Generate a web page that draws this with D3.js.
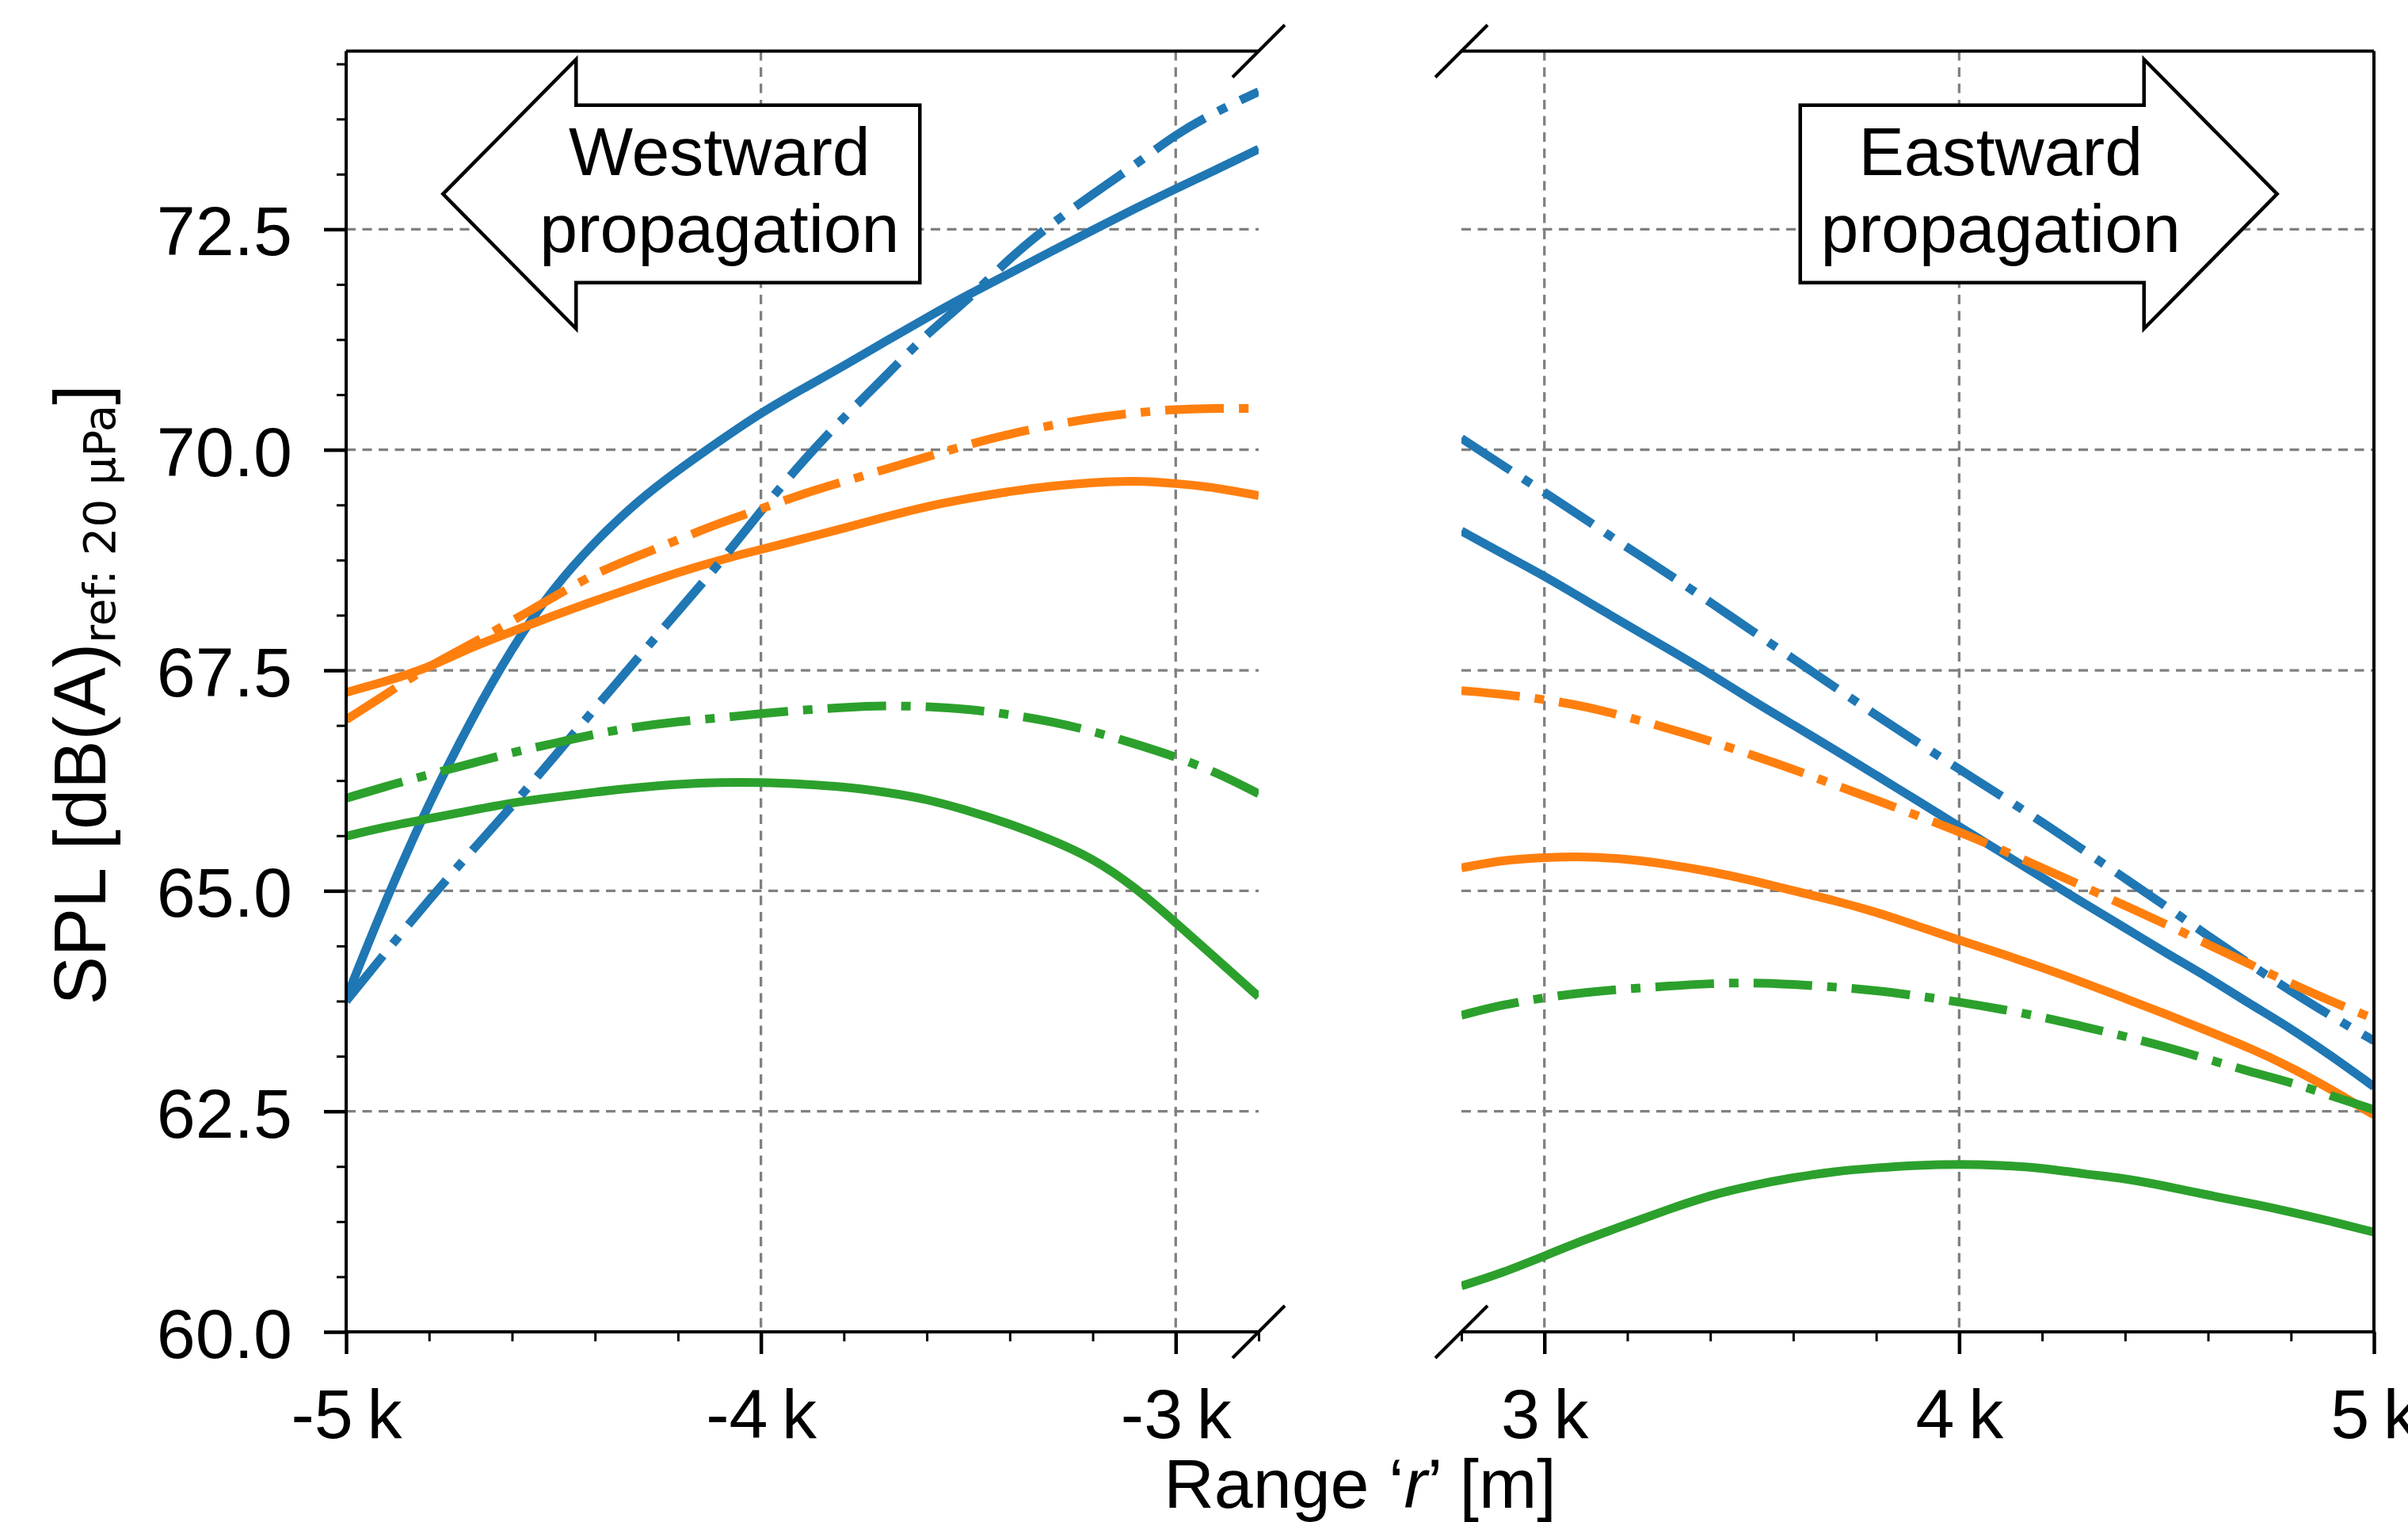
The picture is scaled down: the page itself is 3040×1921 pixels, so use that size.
<!DOCTYPE html>
<html lang="en">
<head>
<meta charset="UTF-8">
<title>SPL vs range</title>
<script src="https://cdn.jsdelivr.net/npm/d3@7/dist/d3.min.js"></script>
<style>
  body { margin: 0; background: #fff; }
  text { font-family: "Liberation Sans", sans-serif; fill: #000; }
</style>
</head>
<body>
<svg id="viz"></svg>
<script>
// ranges [m] at which the curves were read
const westRange = [-5000, -4900, -4800, -4700, -4600, -4500, -4400, -4300, -4200, -4100, -4000, -3900,
                   -3800, -3700, -3600, -3500, -3400, -3300, -3200, -3100, -3000, -2900, -2800];
const eastRange = [2800, 2900, 3000, 3100, 3200, 3300, 3400, 3500, 3600, 3700, 3800, 3900,
                   4000, 4100, 4200, 4300, 4400, 4500, 4600, 4700, 4800, 4900, 5000];

// SPL [dB(A)] westward
const westBlueSolid = [63.78, 64.95, 66.00, 66.93, 67.76, 68.44, 68.96, 69.41, 69.77, 70.10, 70.42, 70.69,
                       70.95, 71.23, 71.50, 71.76, 72.00, 72.25, 72.49, 72.73, 72.96, 73.18, 73.41];
const westBlueDash = [63.75, 64.33, 64.90, 65.44, 65.96, 66.51, 67.07, 67.62, 68.17, 68.71, 69.31, 69.87,
                      70.37, 70.83, 71.32, 71.70, 72.18, 72.56, 72.90, 73.22, 73.58, 73.84, 74.06];
const westOrangeSolid = [67.25, 67.38, 67.53, 67.76, 67.94, 68.12, 68.29, 68.45, 68.61, 68.75, 68.87, 68.99,
                         69.11, 69.24, 69.36, 69.45, 69.53, 69.59, 69.63, 69.65, 69.62, 69.57, 69.48];
const westOrangeDash = [66.94, 67.24, 67.55, 67.79, 68.06, 68.33, 68.60, 68.79, 68.98, 69.17, 69.33, 69.50,
                        69.64, 69.78, 69.92, 70.06, 70.18, 70.28, 70.36, 70.42, 70.46, 70.47, 70.47];
const westGreenSolid = [65.62, 65.73, 65.82, 65.91, 66.00, 66.06, 66.12, 66.17, 66.21, 66.23, 66.23, 66.21,
                        66.18, 66.12, 66.04, 65.91, 65.76, 65.58, 65.37, 65.05, 64.64, 64.22, 63.80];
const westGreenDash = [66.05, 66.19, 66.32, 66.44, 66.57, 66.67, 66.78, 66.86, 66.92, 66.96, 67.01, 67.05,
                       67.08, 67.10, 67.09, 67.06, 67.00, 66.92, 66.81, 66.67, 66.52, 66.34, 66.10];

// SPL [dB(A)] eastward
const eastBlueSolid = [69.08, 68.82, 68.57, 68.29, 68.01, 67.74, 67.46, 67.16, 66.88, 66.60, 66.31, 66.02,
                       65.73, 65.44, 65.15, 64.86, 64.58, 64.29, 64.02, 63.72, 63.44, 63.12, 62.78];
const eastBlueDash = [70.13, 69.82, 69.52, 69.21, 68.89, 68.59, 68.27, 67.95, 67.63, 67.31, 66.99, 66.68,
                      66.38, 66.08, 65.78, 65.46, 65.14, 64.82, 64.49, 64.17, 63.86, 63.57, 63.30];
const eastOrangeSolid = [65.26, 65.35, 65.38, 65.39, 65.36, 65.30, 65.22, 65.12, 65.00, 64.89, 64.76, 64.60,
                         64.44, 64.29, 64.13, 63.96, 63.78, 63.60, 63.41, 63.22, 63.00, 62.74, 62.46];
const eastOrangeDash = [67.27, 67.23, 67.17, 67.09, 66.97, 66.84, 66.70, 66.54, 66.38, 66.20, 66.03, 65.85,
                        65.67, 65.47, 65.26, 65.05, 64.83, 64.62, 64.39, 64.17, 63.95, 63.74, 63.55];
const eastGreenSolid = [60.52, 60.67, 60.86, 61.05, 61.22, 61.39, 61.55, 61.66, 61.75, 61.82, 61.86, 61.89,
                        61.90, 61.89, 61.86, 61.79, 61.74, 61.65, 61.55, 61.46, 61.36, 61.25, 61.13];
const eastGreenDash = [63.59, 63.71, 63.79, 63.85, 63.89, 63.92, 63.95, 63.96, 63.94, 63.91, 63.87, 63.81,
                       63.74, 63.66, 63.57, 63.46, 63.35, 63.23, 63.09, 62.95, 62.83, 62.67, 62.52];

const yMajor = [60, 62.5, 65, 67.5, 70, 72.5];
const westTicks = [-5000, -4000, -3000];
const eastTicks = [3000, 4000, 5000];

const blue = '#1f77b4', orange = '#ff7f0e', green = '#2ca02c';
const dashDot = '74,19,12,19';

const W = 3040, H = 1921;
const plotTop = 64.5, plotBottom = 1681;

const svg = d3.select('#viz').attr('width', W).attr('height', H);

const y = d3.scaleLinear().domain([60, 74.52]).range([plotBottom, plotTop]);
const yMinor = d3.range(60, 74.5, 0.625);

const panels = [
  {
    id: 'west', x0: 437, x1: 1589, domain: [-5000, -2800], ticks: westTicks, side: 'left', r: westRange,
    series: [
      {v: westBlueSolid, c: blue}, {v: westOrangeSolid, c: orange}, {v: westGreenSolid, c: green},
      {v: westBlueDash, c: blue, d: true}, {v: westOrangeDash, c: orange, d: true}, {v: westGreenDash, c: green, d: true}
    ],
    note: {r: -4100, spl: 72.9, dir: -1, lines: ['Westward', 'propagation']}
  },
  {
    id: 'east', x0: 1845, x1: 2997, domain: [2800, 5000], ticks: eastTicks, side: 'right', r: eastRange,
    series: [
      {v: eastBlueSolid, c: blue}, {v: eastOrangeSolid, c: orange}, {v: eastGreenSolid, c: green},
      {v: eastBlueDash, c: blue, d: true}, {v: eastOrangeDash, c: orange, d: true}, {v: eastGreenDash, c: green, d: true}
    ],
    note: {r: 4100, spl: 72.9, dir: 1, lines: ['Eastward', 'propagation']}
  }
];

panels.forEach(p => {
  const x = d3.scaleLinear().domain(p.domain).range([p.x0, p.x1]);
  const xMinor = d3.range(p.domain[0], p.domain[1] + 1, 200);
  const g = svg.append('g').attr('class', p.id);

  g.append('clipPath').attr('id', 'clip-' + p.id)
    .append('rect').attr('x', p.x0).attr('y', plotTop)
    .attr('width', p.x1 - p.x0).attr('height', plotBottom - plotTop);

  // grid
  const grid = g.append('g').attr('stroke', '#808080').attr('stroke-width', 3.3).attr('stroke-dasharray', '12,8.5');
  grid.selectAll('.hg').data(yMajor).join('line')
    .attr('x1', p.x0).attr('x2', p.x1).attr('y1', d => y(d)).attr('y2', d => y(d));
  grid.selectAll('.vg').data(p.ticks).join('line')
    .attr('x1', d => x(d)).attr('x2', d => x(d)).attr('y1', plotTop).attr('y2', plotBottom);

  // curves
  const line = d3.line().x((d, i) => x(p.r[i])).y(d => y(d)).curve(d3.curveBasis);
  g.append('g').attr('clip-path', `url(#clip-${p.id})`)
    .selectAll('path').data(p.series).join('path')
      .attr('d', s => line(s.v))
      .attr('fill', 'none')
      .attr('stroke', s => s.c)
      .attr('stroke-width', 11)
      .attr('stroke-linejoin', 'round')
      .attr('stroke-dasharray', s => s.d ? dashDot : null);

  // annotation arrow box
  const cx = x(p.note.r), cy = y(p.note.spl), dir = p.note.dir;
  const tip = 349, base = 181, back = 253, bh = 112, hh = 170;
  const pts = [
    [cx + dir * tip, cy], [cx + dir * base, cy - hh], [cx + dir * base, cy - bh],
    [cx - dir * back, cy - bh], [cx - dir * back, cy + bh], [cx + dir * base, cy + bh],
    [cx + dir * base, cy + hh]
  ];
  g.append('polygon').attr('points', pts.map(q => q.join(',')).join(' '))
    .attr('fill', '#fff').attr('stroke', '#000').attr('stroke-width', 4.5);
  g.selectAll('.note').data(p.note.lines).join('text')
    .attr('class', 'note')
    .attr('x', cx).attr('y', (d, i) => cy - 24 + i * 97)
    .attr('text-anchor', 'middle').attr('font-size', 86)
    .text(d => d);

  // spines
  const spines = g.append('g').attr('stroke', '#000').attr('stroke-width', 4);
  spines.append('line').attr('x1', p.x0).attr('x2', p.x1).attr('y1', plotTop).attr('y2', plotTop);
  spines.append('line').attr('x1', p.x0).attr('x2', p.x1).attr('y1', plotBottom).attr('y2', plotBottom);
  const sx = p.side === 'left' ? p.x0 : p.x1;
  spines.append('line').attr('x1', sx).attr('x2', sx).attr('y1', plotTop).attr('y2', plotBottom);

  // break marks
  const bx = p.side === 'left' ? p.x1 : p.x0;
  spines.selectAll('.brk').data([plotTop, plotBottom]).join('line')
    .attr('x1', bx - 33).attr('y1', d => d + 33).attr('x2', bx + 33).attr('y2', d => d - 33);

  // x axis
  const xAxis = g.append('g').attr('transform', `translate(0,${plotBottom})`)
    .call(d3.axisBottom(x).tickValues(p.ticks).tickSize(28).tickPadding(44)
      .tickFormat(d => (d / 1000) + '\u2009k'));
  g.append('g').attr('transform', `translate(0,${plotBottom})`)
    .call(d3.axisBottom(x).tickValues(xMinor).tickSize(12).tickFormat(''))
    .call(a => a.select('.domain').remove())
    .selectAll('line').attr('stroke-width', 3);
  xAxis.select('.domain').remove();
  xAxis.selectAll('line').attr('stroke-width', 4.5);
  xAxis.selectAll('text').attr('font-size', 88).attr('font-family', '"Liberation Sans", sans-serif').attr('fill', '#000');

  // y axis only on the left panel
  if (p.side === 'left') {
    const yAxis = g.append('g').attr('transform', `translate(${p.x0},0)`)
      .call(d3.axisLeft(y).tickValues(yMajor).tickSize(28).tickPadding(40).tickFormat(d3.format('.1f')));
    yAxis.select('.domain').remove();
    yAxis.selectAll('line').attr('stroke-width', 4.5);
    yAxis.selectAll('text').attr('font-size', 88).attr('dy', '0.37em')
      .attr('font-family', '"Liberation Sans", sans-serif').attr('fill', '#000');
    g.append('g').attr('transform', `translate(${p.x0},0)`)
      .call(d3.axisLeft(y).tickValues(yMinor).tickSize(12).tickFormat(''))
      .call(a => a.select('.domain').remove())
      .selectAll('line').attr('stroke-width', 3);
  }
});

// axis labels
const xl = svg.append('text').attr('x', 1717).attr('y', 1903)
  .attr('text-anchor', 'middle').attr('font-size', 88);
xl.append('tspan').text('Range \u2018');
xl.append('tspan').attr('font-style', 'italic').text('r');
xl.append('tspan').text('\u2019 [m]');

const yl = svg.append('text').attr('transform', 'translate(133,877) rotate(-90)')
  .attr('text-anchor', 'middle').attr('font-size', 92);
yl.append('tspan').text('SPL [dB(A)');
yl.append('tspan').attr('dy', 12).attr('font-size', 56).attr('font-family', '"DejaVu Sans", sans-serif')
  .text('ref: 20 \u03bcPa');
yl.append('tspan').attr('dy', -12).text(']');
</script>
</body>
</html>
